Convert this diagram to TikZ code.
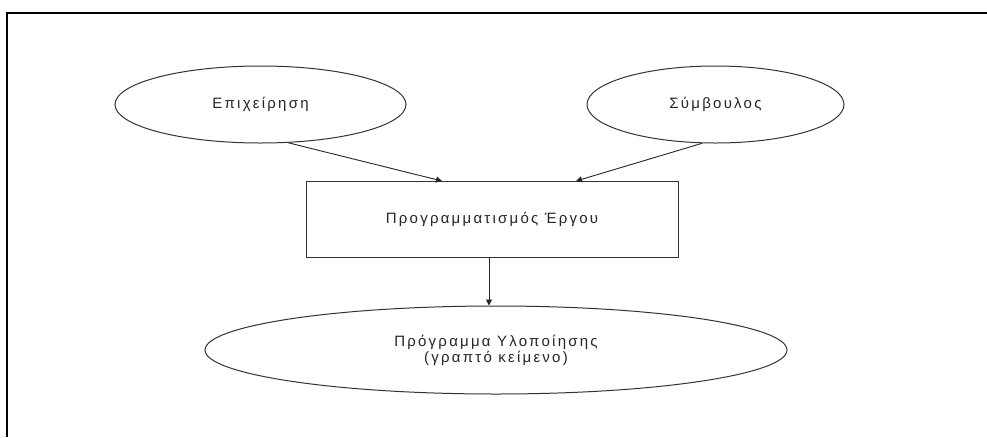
\documentclass[tikz,border=0pt]{standalone}
\usepackage{fontspec}
\setmainfont{Liberation Sans}
\newfontfamily\labelfont[LetterSpace=15]{Liberation Sans}
\usetikzlibrary{arrows.meta,shapes.geometric}
\begin{document}
\begin{tikzpicture}[x=1pt,y=-1pt,
  shape line/.style={draw=black!80, line width=1pt},
  label text/.style={font=\labelfont\fontsize{15}{16}\selectfont, text=black!85},
  oval/.style={shape line, ellipse, inner sep=0pt, label text, align=center},
  box/.style={shape line, rectangle, inner sep=0pt, label text},
  link/.style={draw=black!85, line width=0.9pt, -{Triangle[length=6pt,width=6pt]}},
  frame/.style={draw=black, line width=1.5pt}
]
\useasboundingbox (0,0) rectangle (987,437);
\fill[white] (0,0) rectangle (987,437);

% outer frame (top and left edges)
\draw[frame] (7,437) -- (7,13) -- (987,13);

% nodes
\node[oval, minimum width=291pt, minimum height=77pt] (firm) at (260.5,104.5) {Επιχείρηση};
\node[oval, minimum width=257pt, minimum height=77pt] (adv) at (715.5,104.5) {Σύμβουλος};
\node[box, minimum width=372pt, minimum height=76pt] (plan) at (492,219) {Προγραμματισμός Έργου};
\node[oval, minimum width=582pt, minimum height=88pt] (prog) at (496,350) {Πρόγραμμα Υλοποίησης\\(γραπτό κείμενο)};

% arrow end points on the box edges
\coordinate (inA) at (442,181);
\coordinate (inB) at (576,181);
\coordinate (outC) at (489,257);

% connectors
\draw[link] (firm.-54) -- (inA);
\draw[link] (adv.-109) -- (inB);
\draw[link] (outC) -- (outC |- prog.north);
\end{tikzpicture}
\end{document}
